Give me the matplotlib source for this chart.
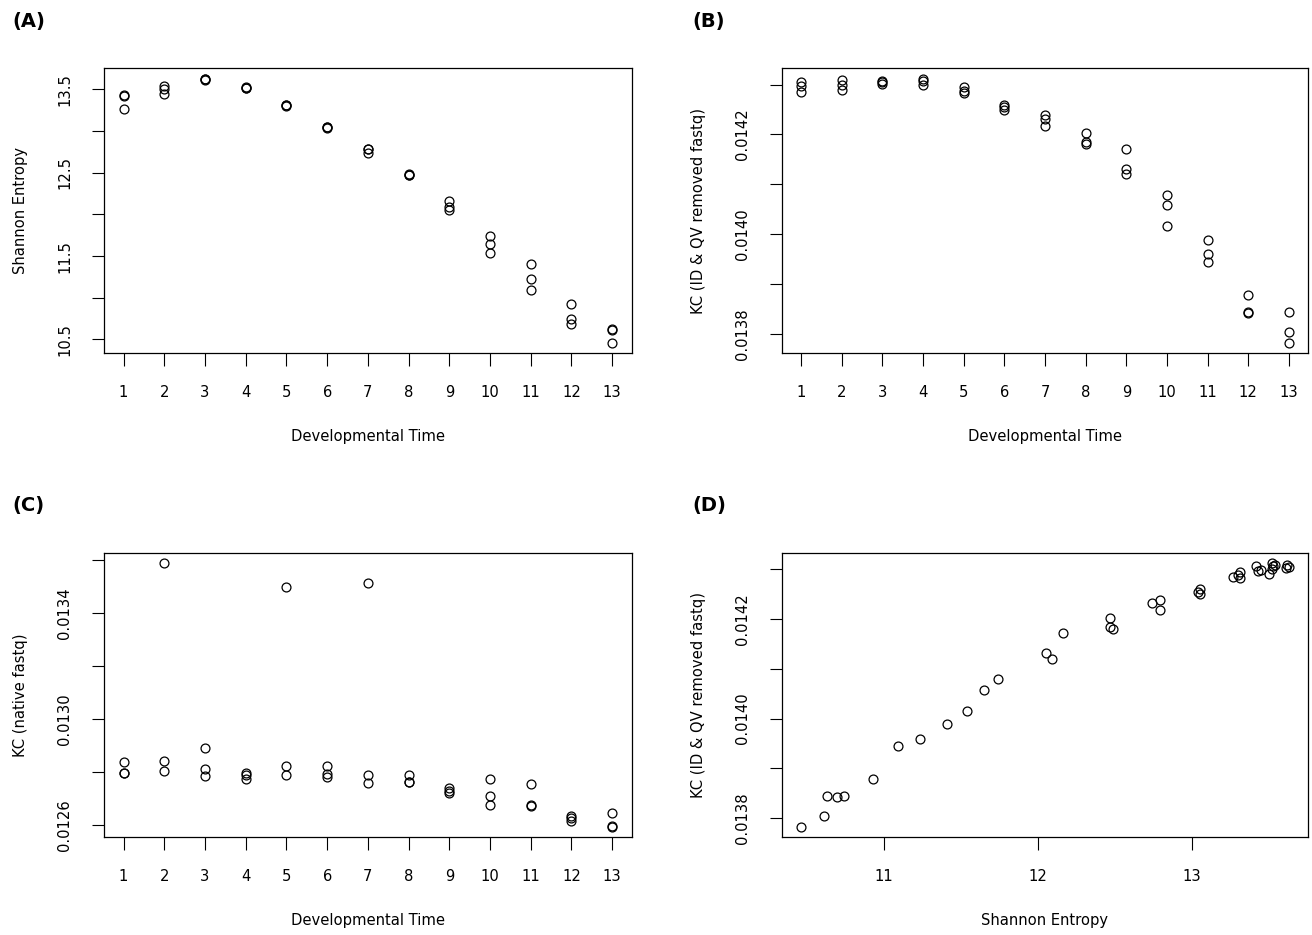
import matplotlib
matplotlib.use("Agg")
import matplotlib.pyplot as plt
import numpy as np

# ---- data ----
dev_time = [1, 1, 1, 2, 2, 2, 3, 3, 3, 4, 4, 4, 5, 5, 5, 6, 6, 6, 7, 7, 7,
            8, 8, 8, 9, 9, 9, 10, 10, 10, 11, 11, 11, 12, 12, 12, 13, 13, 13]

shannon = [13.42, 13.43, 13.27,
           13.54, 13.50, 13.45,
           13.62, 13.63, 13.61,
           13.52, 13.53, 13.52,
           13.31, 13.30, 13.31,
           13.05, 13.04, 13.05,
           12.79, 12.74, 12.79,
           12.47, 12.47, 12.49,
           12.05, 12.09, 12.16,
           11.74, 11.65, 11.54,
           11.41, 11.23, 11.09,
           10.93, 10.74, 10.69,
           10.63, 10.61, 10.46]

kc_idqv = [0.014306, 0.014297, 0.014285,
           0.014309, 0.014290, 0.014299,
           0.014308, 0.014305, 0.014302,
           0.014312, 0.014307, 0.014300,
           0.014295, 0.014288, 0.014283,
           0.014260, 0.014255, 0.014250,
           0.014218, 0.014232, 0.014239,
           0.014203, 0.014184, 0.014180,
           0.014131, 0.014120, 0.014171,
           0.014079, 0.014058, 0.014016,
           0.013989, 0.013960, 0.013945,
           0.013878, 0.013844, 0.013843,
           0.013844, 0.013805, 0.013783]

kc_native = [0.012840, 0.012796, 0.012798,
             0.013586, 0.012842, 0.012806,
             0.012892, 0.012813, 0.012785,
             0.012798, 0.012788, 0.012775,
             0.013498, 0.012823, 0.012788,
             0.012825, 0.012794, 0.012784,
             0.013511, 0.012790, 0.012758,
             0.012790, 0.012762, 0.012763,
             0.012741, 0.012731, 0.012722,
             0.012776, 0.012711, 0.012678,
             0.012754, 0.012674, 0.012675,
             0.012637, 0.012628, 0.012618,
             0.012645, 0.012595, 0.012596]

time_ticks = list(range(1, 14))
time_labels = [str(t) for t in time_ticks]

shannon_ticks = [10.5, 11.0, 11.5, 12.0, 12.5, 13.0, 13.5]
shannon_labels = ["10.5", "", "11.5", "", "12.5", "", "13.5"]

kc_ticks = [0.0138, 0.0139, 0.0140, 0.0141, 0.0142, 0.0143]
kc_labels = ["0.0138", "", "0.0140", "", "0.0142", ""]

native_ticks = [0.0126, 0.0128, 0.0130, 0.0132, 0.0134, 0.0136]
native_labels = ["0.0126", "", "0.0130", "", "0.0134", ""]

ent_ticks = [11, 12, 13]
ent_labels = ["11", "12", "13"]

# ---- style ----
plt.rcParams['font.family'] = ['DejaVu Sans']
plt.rcParams['font.stretch'] = 'condensed'
FS = 11.8
W, H = 1312, 935
fig = plt.figure(figsize=(W / 100, H / 100), dpi=100)

def box(l, t, r, b):
    return [l / W, 1 - b / H, (r - l) / W, (b - t) / H]

axA = fig.add_axes(box(104, 68, 631.7, 353.3))
axB = fig.add_axes(box(781.7, 68, 1308.3, 353.3))
axC = fig.add_axes(box(104, 552.7, 631.7, 837.3))
axD = fig.add_axes(box(781.7, 552.7, 1308.3, 837.3))

def style(ax, x, y, xt, xl, yt, yl, xlabel, ylabel):
    ax.plot(x, y, linestyle='none', marker='o', markersize=6.4,
            markerfacecolor='none', markeredgecolor='black',
            markeredgewidth=0.9)
    ax.margins(x=0.04, y=0.04)
    ax.set_xticks(xt)
    ax.set_xticklabels(xl, fontsize=FS)
    ax.set_yticks(yt)
    ax.set_yticklabels(yl, fontsize=FS, rotation=90, va='center')
    ax.tick_params(direction='out', length=9, width=0.8, pad=14,
                   color='black')
    for s in ax.spines.values():
        s.set_linewidth(0.9)
    ax.set_xlabel(xlabel, fontsize=FS, labelpad=21)
    ax.set_ylabel(ylabel, fontsize=FS, labelpad=21)

style(axA, dev_time, shannon, time_ticks, time_labels,
      shannon_ticks, shannon_labels, "Developmental Time", "Shannon Entropy")
style(axB, dev_time, kc_idqv, time_ticks, time_labels,
      kc_ticks, kc_labels, "Developmental Time", "KC (ID & QV removed fastq)")
style(axC, dev_time, kc_native, time_ticks, time_labels,
      native_ticks, native_labels, "Developmental Time", "KC (native fastq)")
style(axD, shannon, kc_idqv, ent_ticks, ent_labels,
      kc_ticks, kc_labels, "Shannon Entropy", "KC (ID & QV removed fastq)")

for lab, (px, py) in zip(["(A)", "(B)", "(C)", "(D)"],
                         [(12, 22), (692, 22), (12, 505), (692, 505)]):
    fig.text(px / W, 1 - py / H, lab, fontsize=14, fontweight='bold',
             fontstretch='normal', ha='left', va='center')

fig.savefig("out.png", dpi=100)
